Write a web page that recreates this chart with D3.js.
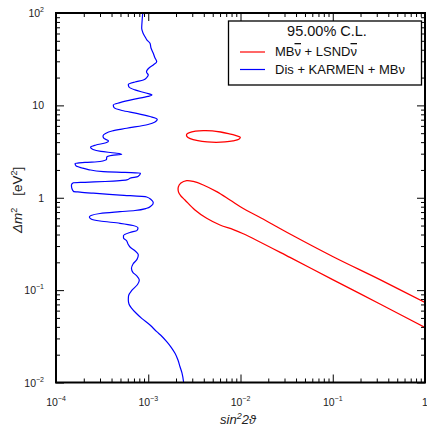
<!DOCTYPE html>
<html>
<head>
<meta charset="utf-8">
<script src="https://cdn.jsdelivr.net/npm/d3@7"></script>
<style>
  html, body { margin: 0; padding: 0; background: #fff; }
  svg { display: block; font-family: "Liberation Sans", Arial, sans-serif; }
</style>
</head>
<body>
<svg id="chart" width="427" height="427"></svg>
<script>
// Exclusion limit: Dis + KARMEN + MBnu (sin^2 2theta, dm^2 [eV^2])
const disKarmenMb = [
  [8.71e-4, 100], [8.56e-4, 79.9], [8.49e-4, 68.3], [8.77e-4, 60.8], [9.22e-4, 55.4],
  [9.69e-4, 51.0], [1.045e-3, 47.0], [1.071e-3, 41.8], [1.134e-3, 36.6], [1.184e-3, 32.6],
  [1.235e-3, 29.7], [1.134e-3, 27.4], [1.019e-3, 25.4], [9.76e-4, 24.2], [9.57e-4, 23.0],
  [1.001e-3, 21.3], [9.62e-4, 20.0], [8.84e-4, 18.8], [7.18e-4, 17.9], [6.08e-4, 16.8],
  [6.18e-4, 15.8], [7.18e-4, 14.7], [9.45e-4, 13.6], [1.098e-3, 12.95], [9.94e-4, 12.5],
  [6.89e-4, 11.6], [4.94e-4, 10.7], [4.18e-4, 10.1], [4.25e-4, 9.48], [5.19e-4, 8.80],
  [7.50e-4, 8.21], [1.045e-3, 7.58], [1.253e-3, 7.07], [1.184e-3, 6.61], [9.94e-4, 6.21],
  [5.84e-4, 5.65], [4.05e-4, 5.28], [3.44e-4, 4.96], [3.23e-4, 4.66], [3.31e-4, 4.38],
  [3.71e-4, 4.12], [3.48e-4, 3.94], [2.71e-4, 3.72], [2.37e-4, 3.53], [2.52e-4, 3.33],
  [3.07e-4, 3.17], [4.36e-4, 3.05], [5.16e-4, 2.96], [4.05e-4, 2.87], [3.55e-4, 2.76],
  [3.53e-4, 2.60], [3.00e-4, 2.47], [2.06e-4, 2.41], [1.61e-4, 2.35], [1.65e-4, 2.21],
  [1.91e-4, 2.10], [2.24e-4, 2.02], [3.26e-4, 1.92], [5.60e-4, 1.88], [8.24e-4, 1.85],
  [7.74e-4, 1.70], [6.50e-4, 1.64], [5.84e-4, 1.56], [3.40e-4, 1.50], [2.06e-4, 1.47],
  [1.54e-4, 1.45], [1.47e-4, 1.37], [1.48e-4, 1.28], [1.55e-4, 1.17], [1.82e-4, 1.15],
  [2.54e-4, 1.12], [4.94e-4, 1.07], [9.62e-4, 1.02], [1.071e-3, 0.957], [1.134e-3, 0.884],
  [1.071e-3, 0.814], [9.62e-4, 0.769], [7.18e-4, 0.728], [4.94e-4, 0.706], [3.00e-4, 0.675],
  [2.40e-4, 0.642], [2.30e-4, 0.619], [2.40e-4, 0.589], [3.00e-4, 0.560], [4.94e-4, 0.529],
  [6.84e-4, 0.501], [7.74e-4, 0.471], [7.55e-4, 0.442], [6.34e-4, 0.421], [5.39e-4, 0.390],
  [5.39e-4, 0.367], [5.81e-4, 0.344], [6.03e-4, 0.316], [6.34e-4, 0.293], [7.00e-4, 0.272],
  [7.80e-4, 0.240], [7.55e-4, 0.215], [6.84e-4, 0.192], [6.58e-4, 0.171], [6.84e-4, 0.155],
  [7.55e-4, 0.142], [8.00e-4, 0.129], [7.65e-4, 0.115], [6.67e-4, 0.100], [6.11e-4, 0.0864],
  [6.08e-4, 0.0781], [6.18e-4, 0.0708], [6.62e-4, 0.0636], [7.36e-4, 0.0565], [8.49e-4, 0.0495],
  [1.045e-3, 0.0419], [1.235e-3, 0.0355], [1.41e-3, 0.0315], [1.585e-3, 0.0277], [1.765e-3, 0.0242],
  [1.95e-3, 0.0207], [2.10e-3, 0.0175], [2.21e-3, 0.0148], [2.32e-3, 0.0127], [2.42e-3, 0.0100]
];

// Allowed region: MBnubar + LSNDnubar, small closed island
const mbLsndIsland = [
  [2.61e-3, 4.87], [2.80e-3, 5.08], [3.25e-3, 5.25], [3.95e-3, 5.33], [4.95e-3, 5.30],
  [6.10e-3, 5.15], [7.40e-3, 4.95], [8.80e-3, 4.74], [9.95e-3, 4.52], [9.60e-3, 4.30],
  [8.30e-3, 4.13], [6.80e-3, 4.02], [5.45e-3, 3.98], [4.35e-3, 4.02], [3.45e-3, 4.15],
  [2.85e-3, 4.37], [2.62e-3, 4.62]
];

// Allowed region: MBnubar + LSNDnubar, main band (open at sin^2 2theta = 1)
const mbLsndBand = [
  [1.0, 0.0735], [0.325, 0.130], [0.101, 0.230], [0.0344, 0.405], [0.0156, 0.627],
  [0.01072, 0.765], [7.69e-3, 0.946], [5.52e-3, 1.163], [3.95e-3, 1.374], [3.08e-3, 1.50],
  [2.61e-3, 1.53], [2.26e-3, 1.44], [2.12e-3, 1.31], [2.13e-3, 1.15], [2.26e-3, 1.045],
  [2.50e-3, 0.946], [3.21e-3, 0.737], [4.30e-3, 0.599], [5.99e-3, 0.507], [8.36e-3, 0.453],
  [1.072e-2, 0.408], [0.0344, 0.226], [0.101, 0.129], [0.325, 0.0708], [1.0, 0.0394]
];

const xDecadeExps = [-4, -3, -2, -1, 0];
const yDecadeExps = [-2, -1, 0, 1, 2];
const legendTitle = "95.00% C.L.";

const svg = d3.select("#chart");
const W = 427, H = 427;
const plotLeft = 56, plotRight = 425, plotTop = 13, plotBottom = 382.5;

svg.append("rect").attr("width", W).attr("height", H).attr("fill", "#fff");

const x = d3.scaleLog().domain([1e-4, 1]).range([plotLeft, plotRight]);
const y = d3.scaleLog().domain([1e-2, 1e2]).range([plotBottom, plotTop]);

// minor and major tick values
const majorX = xDecadeExps.map(e => Math.pow(10, e));
const majorY = yDecadeExps.map(e => Math.pow(10, e));
const minorOf = (exps) => {
  const out = [];
  exps.slice(0, -1).forEach(e => { for (let k = 2; k <= 9; k++) out.push(k * Math.pow(10, e)); });
  return out;
};
const minorX = minorOf(xDecadeExps);
const minorY = minorOf(yDecadeExps);

// clip for data curves
svg.append("clipPath").attr("id", "plotclip")
  .append("rect").attr("x", plotLeft).attr("y", plotTop)
  .attr("width", plotRight - plotLeft).attr("height", plotBottom - plotTop);

const plot = svg.append("g").attr("clip-path", "url(#plotclip)");

// the exclusion curve is single-valued in dm^2, so a monotone-in-y spline keeps it smooth
const limitLine = d3.line().x(d => x(d[0])).y(d => y(d[1])).curve(d3.curveMonotoneY);
const line = d3.line().x(d => x(d[0])).y(d => y(d[1])).curve(d3.curveCatmullRom.alpha(0.5));
const closedLine = d3.line().x(d => x(d[0])).y(d => y(d[1])).curve(d3.curveCatmullRomClosed.alpha(0.5));

plot.append("path").datum(disKarmenMb).attr("d", limitLine)
  .attr("fill", "none").attr("stroke", "#0000ff").attr("stroke-width", 1.2);
plot.append("path").datum(mbLsndIsland).attr("d", closedLine)
  .attr("fill", "none").attr("stroke", "#ff0000").attr("stroke-width", 1.3);
plot.append("path").datum(mbLsndBand).attr("d", line)
  .attr("fill", "none").attr("stroke", "#ff0000").attr("stroke-width", 1.3);

// axes with inward ticks on all four sides
function drawAxis(axisFn, scale, isX, transform) {
  const gMinor = svg.append("g").attr("transform", transform)
    .call(axisFn(scale).tickValues(isX ? minorX : minorY).tickSize(-4).tickFormat(""));
  const gMajor = svg.append("g").attr("transform", transform)
    .call(axisFn(scale).tickValues(isX ? majorX : majorY).tickSize(-8).tickFormat(""));
  [gMinor, gMajor].forEach(g => {
    g.select(".domain").remove();
    g.selectAll(".tick line").attr("stroke", "#000").attr("stroke-width", 1);
  });
}
drawAxis(d3.axisBottom, x, true, `translate(0,${plotBottom})`);
drawAxis(d3.axisTop, x, true, `translate(0,${plotTop})`);
drawAxis(d3.axisLeft, y, false, `translate(${plotLeft},0)`);
drawAxis(d3.axisRight, y, false, `translate(${plotRight},0)`);

// frame
svg.append("rect").attr("x", plotLeft).attr("y", plotTop)
  .attr("width", plotRight - plotLeft).attr("height", plotBottom - plotTop)
  .attr("fill", "none").attr("stroke", "#000").attr("stroke-width", 2);

// tick labels: powers of ten
function powLabel(sel, exp) {
  if (exp === 0) { sel.append("tspan").text("1"); return; }
  if (exp === 1) { sel.append("tspan").text("10"); return; }
  sel.append("tspan").text("10");
  sel.append("tspan").attr("font-size", 7).attr("dy", -5)
    .text(exp < 0 ? "\u2212" + Math.abs(exp) : String(exp));
}
xDecadeExps.forEach(e => {
  const t = svg.append("text").attr("x", x(Math.pow(10, e))).attr("y", 406)
    .attr("text-anchor", "middle").attr("font-size", 10.5).attr("fill", "#222");
  powLabel(t, e);
});
yDecadeExps.forEach(e => {
  const t = svg.append("text").attr("x", 44).attr("y", y(Math.pow(10, e)) + 4)
    .attr("text-anchor", "end").attr("font-size", 10.5).attr("fill", "#222");
  powLabel(t, e);
});

// axis titles
const xt = svg.append("text").attr("x", 220).attr("y", 424).attr("font-size", 13)
  .attr("font-style", "italic").attr("fill", "#222");
xt.append("tspan").text("sin");
xt.append("tspan").attr("font-size", 9).attr("dy", -5).text("2");
xt.append("tspan").attr("dy", 5).text("2\u03D1");

const yt = svg.append("text").attr("transform", "translate(22,233) rotate(-90)")
  .attr("font-size", 13.5).attr("fill", "#222");
yt.append("tspan").attr("font-style", "italic").text("\u0394m");
yt.append("tspan").attr("font-size", 9).attr("dy", -5).text("2");
yt.append("tspan").attr("dy", 5).attr("dx", 12).text("[eV");
yt.append("tspan").attr("font-size", 9).attr("dy", -5).text("2");
yt.append("tspan").attr("dy", 5).text("]");

// legend
const lg = svg.append("g");
lg.append("rect").attr("x", 228.5).attr("y", 21).attr("width", 193).attr("height", 64)
  .attr("fill", "#fff").attr("stroke", "#000").attr("stroke-width", 1.3);
lg.append("text").attr("x", 327).attr("y", 35.5).attr("text-anchor", "middle")
  .attr("font-size", 14.5).attr("fill", "#111").text(legendTitle);

const legendRows = [
  { color: "#ff0000", y: 52 },
  { color: "#0000ff", y: 69.5 }
];
legendRows.forEach(r => {
  lg.append("line").attr("x1", 240).attr("x2", 265).attr("y1", r.y).attr("y2", r.y)
    .attr("stroke", r.color).attr("stroke-width", 1.2);
});
const l1 = lg.append("text").attr("x", 275).attr("y", 56).attr("font-size", 13).attr("fill", "#111");
l1.append("tspan").text("MB");
l1.append("tspan").style("text-decoration", "overline").text("\u03BD");
l1.append("tspan").text(" + LSND");
l1.append("tspan").style("text-decoration", "overline").text("\u03BD");
lg.append("text").attr("x", 275).attr("y", 73.5).attr("font-size", 13).attr("fill", "#111")
  .text("Dis + KARMEN + MB\u03BD");
</script>
</body>
</html>
